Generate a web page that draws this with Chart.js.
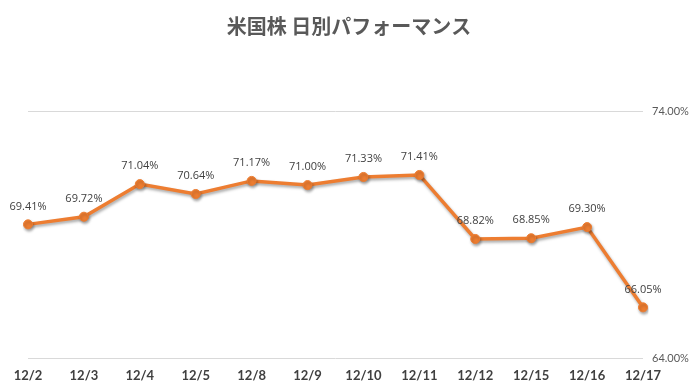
<!DOCTYPE html>
<html>
<head>
<meta charset="utf-8">
<script src="https://cdn.jsdelivr.net/npm/chart.js@4.4.1/dist/chart.umd.min.js"></script>
<style>
html,body{margin:0;padding:0;background:#fff;}
#wrap{width:698px;height:392px;position:relative;}
</style>
</head>
<body>
<div id="wrap"><canvas id="c" width="698" height="392"></canvas></div>
<script>
const title = "米国株 日別パフォーマンス";
const categories = ["12/2","12/3","12/4","12/5","12/8","12/9","12/10","12/11","12/12","12/15","12/16","12/17"];
const values = [69.41, 69.72, 71.04, 70.64, 71.17, 71.00, 71.33, 71.41, 68.82, 68.85, 69.30, 66.05];
const yTicks = [64, 74];

const ORANGE = "#ED7D31";

const titlePlugin = {
  id: "titleDraw",
  afterDraw(chart) {
    const ctx = chart.ctx;
    ctx.save();
    ctx.font = "bold 20px 'Noto Sans CJK JP'";
    ctx.fillStyle = "#595959";
    ctx.textAlign = "center";
    ctx.textBaseline = "middle";
    ctx.fillText(title, 349, 26);
    ctx.restore();
  }
};

const shadowPlugin = {
  id: "shadow",
  beforeDatasetsDraw(chart) {
    const ctx = chart.ctx;
    ctx.save();
    ctx.shadowColor = "rgba(0,0,0,0.35)";
    ctx.shadowBlur = 3;
    ctx.shadowOffsetX = 1;
    ctx.shadowOffsetY = 2;
  },
  afterDatasetsDraw(chart) {
    chart.ctx.restore();
  }
};

const labelPlugin = {
  id: "dataLabels",
  afterDatasetsDraw(chart) {
    const ctx = chart.ctx;
    const meta = chart.getDatasetMeta(0);
    ctx.save();
    ctx.font = "11px 'Open Sans'";
    ctx.fillStyle = "#404040";
    ctx.textAlign = "center";
    ctx.textBaseline = "middle";
    meta.data.forEach((pt, i) => {
      ctx.fillText(values[i].toFixed(2) + "%", pt.x, pt.y - 18);
    });
    ctx.restore();
  }
};

new Chart(document.getElementById("c"), {
  type: "line",
  data: {
    labels: categories,
    datasets: [{
      data: values,
      borderColor: ORANGE,
      backgroundColor: ORANGE,
      borderWidth: 3.5,
      pointRadius: 4.5,
      pointHoverRadius: 4.5,
      pointBackgroundColor: ORANGE,
      pointBorderColor: ORANGE,
      pointBorderWidth: 1,
      tension: 0,
      fill: false
    }]
  },
  options: {
    responsive: false,
    animation: false,
    devicePixelRatio: 1,
    layout: { padding: { top: 111, left: 28, right: 0, bottom: 0 } },
    plugins: {
      legend: { display: false },
      title: { display: false },
      tooltip: { enabled: false }
    },
    scales: {
      x: {
        offset: false,
        grid: { display: false, drawTicks: false },
        border: { display: false },
        ticks: {
          color: "#404040",
          font: { family: "Lato", size: 13, weight: "bold" },
          padding: 10,
          maxRotation: 0,
          autoSkip: false
        },
        afterFit(s) { s.height = 34; }
      },
      y: {
        position: "right",
        min: 64,
        max: 74,
        afterBuildTicks(s) { s.ticks = yTicks.map(v => ({ value: v })); },
        grid: { color: "#d9d9d9", lineWidth: 1, drawTicks: false },
        border: { display: false },
        ticks: {
          color: "#595959",
          font: { family: "Lato", size: 11 },
          padding: 9,
          callback: v => v.toFixed(2) + "%"
        },
        afterFit(s) { s.width = 55; }
      }
    }
  },
  plugins: [titlePlugin, shadowPlugin, labelPlugin]
});
</script>
</body>
</html>
